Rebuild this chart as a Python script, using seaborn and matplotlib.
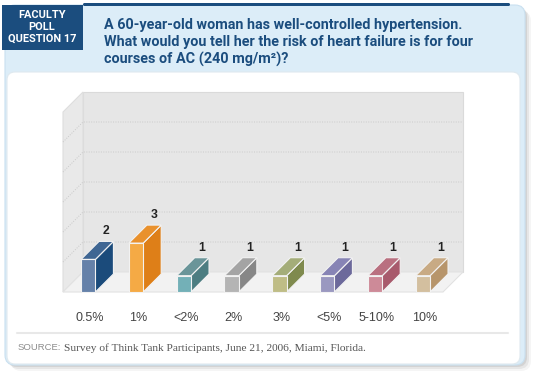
"""
Faculty poll bar chart: 3D-style vote counts per answer option.
"""

import matplotlib
matplotlib.use('Agg')
import matplotlib.pyplot as plt
from matplotlib.patches import Polygon, FancyBboxPatch, Rectangle
import seaborn as sns


# ── Data ───────────────────────────────────────────────────────────────────────

answers = ['0.5%', '1%', '<2%', '2%', '3%', '<5%', '5-10%', '10%']
votes = [2, 3, 1, 1, 1, 1, 1, 1]

front_colors = ['#6581a9', '#f5aa45', '#73b0b7', '#b4b4b4',
                '#bfbd86', '#9a98c0', '#cd8a98', '#d3bf9f']
side_colors = ['#1b4b7b', '#de7f18', '#4c7d81', '#878787',
               '#7f8a4e', '#6c699b', '#a85a6c', '#b7956b']
top_colors = ['#3f6693', '#e9912d', '#6a9599', '#a4a4a4',
              '#a4ad79', '#8784b5', '#b97080', '#c8aa84']

badge_lines = ['FACULTY', 'POLL', 'QUESTION 17']
title_lines = ['A 60-year-old woman has well-controlled hypertension.',
               'What would you tell her the risk of heart failure is for four',
               'courses of AC (240 mg/m²)?']
source_tag = 'SOURCE:'
source_text = 'Survey of Think Tank Participants, June 21, 2006, Miami, Florida.'


# ── Geometry (pixels) ──────────────────────────────────────────────────────────

W, H = 540, 380
CAT0_PX, CAT_STEP_PX = 88.25, 47.8      # pixel x of first category, spacing
BASE_PX, UNIT_PX = 292, 16.3            # pixel y of zero, pixels per vote
XLIM, YLIM = (-0.6, 7.9), (-2.2, 12.6)
FLOOR_DEPTH_PX, BAR_DEPTH_PX = 20, 18
NAVY = '#1b4d7e'


def chart_rect():
    left = CAT0_PX + CAT_STEP_PX * XLIM[0]
    right = CAT0_PX + CAT_STEP_PX * XLIM[1]
    bottom = BASE_PX - UNIT_PX * YLIM[0]
    top = BASE_PX - UNIT_PX * YLIM[1]
    return [left / W, 1 - bottom / H, (right - left) / W, (bottom - top) / H]


sns.set_style('white')
plt.rcParams['font.family'] = ['Liberation Sans', 'DejaVu Sans']

fig = plt.figure(figsize=(W / 100, H / 100), dpi=100)

# ── Frame ──────────────────────────────────────────────────────────────────────

bg = fig.add_axes([0, 0, 1, 1])
bg.set_xlim(0, W)
bg.set_ylim(H, 0)
bg.axis('off')

for off, alpha in [(6, 0.04), (4, 0.06), (2, 0.08)]:
    bg.add_patch(FancyBboxPatch((5 + off, 5 + off), 520, 360,
                                boxstyle='round,pad=0,rounding_size=10',
                                facecolor='#000000', edgecolor='none', alpha=alpha))
bg.add_patch(FancyBboxPatch((5, 5), 520, 360, boxstyle='round,pad=0,rounding_size=10',
                            facecolor='#dcedf8', edgecolor='#c9e0f0', linewidth=0.8))
bg.add_patch(FancyBboxPatch((7, 72), 513, 292, boxstyle='round,pad=0,rounding_size=8',
                            facecolor='white', edgecolor='#dfe9ef', linewidth=0.8))
bg.add_patch(FancyBboxPatch((83, 3), 427, 3, boxstyle='round,pad=0,rounding_size=1.5',
                            facecolor=NAVY, edgecolor='none'))
bg.add_patch(Rectangle((2, 5), 81, 45, facecolor=NAVY, edgecolor='none'))

for i, line in enumerate(badge_lines):
    bg.text(42, 15 + 12 * i, line, color='white', fontsize=7.9, fontweight='bold',
            ha='center', va='center', family=['Roboto', 'DejaVu Sans'])
for i, line in enumerate(title_lines):
    bg.text(104, 25 + 17 * i, line, color=NAVY, fontsize=10.4, fontweight='bold',
            ha='left', va='center', family=['Roboto', 'DejaVu Sans'])

bg.plot([17, 508], [333, 333], color='#e8e8e8', linewidth=1.5)
bg.text(18, 348, source_tag, color='#8c8c8c', fontsize=6.8, ha='left', va='center')
bg.text(64, 348, source_text, color='#555555', fontsize=8.2, ha='left', va='center',
        family=['Liberation Serif', 'DejaVu Serif'])

# ── 3D bar chart ───────────────────────────────────────────────────────────────

ax = fig.add_axes(chart_rect())
sns.barplot(x=answers, y=votes, hue=answers, palette=front_colors, legend=False,
            width=0.30, saturation=1, edgecolor='#f2f2f2', linewidth=0.8, ax=ax)
bars = list(ax.patches)
ax.set_xlim(XLIM)
ax.set_ylim(YLIM)
ax.axis('off')

fdx, fdy = FLOOR_DEPTH_PX / CAT_STEP_PX, FLOOR_DEPTH_PX / UNIT_PX
x_left = (63 - CAT0_PX) / CAT_STEP_PX
x_right = (443 - CAT0_PX) / CAT_STEP_PX
y_top = (BASE_PX - 92) / UNIT_PX

ax.add_patch(Polygon([(x_left + fdx, fdy), (x_right + fdx, fdy),
                      (x_right + fdx, y_top), (x_left + fdx, y_top)],
                     facecolor='#e6e6e6', edgecolor='#dadada', linewidth=0.8, zorder=0.5))
ax.add_patch(Polygon([(x_left, 0), (x_left + fdx, fdy), (x_left + fdx, y_top),
                      (x_left, y_top - fdy)],
                     facecolor='#e9e9e9', edgecolor='#dedede', linewidth=0.8, zorder=0.5))
ax.add_patch(Polygon([(x_left, 0), (x_right, 0), (x_right + fdx, fdy), (x_left + fdx, fdy)],
                     facecolor='#f2f2f2', edgecolor='#e2e2e2', linewidth=0.8, zorder=0.6))

grid_step = (y_top - fdy) / 6
for k in range(1, 6):
    g = fdy + k * grid_step
    ax.plot([x_left, x_left + fdx, x_right + fdx], [g - fdy, g, g],
            color='#c9c9c9', linewidth=0.7, linestyle=(0, (1, 1.5)), zorder=0.7)

bdx, bdy = BAR_DEPTH_PX / CAT_STEP_PX, BAR_DEPTH_PX / UNIT_PX
for p, v, sc, tc in zip(bars, votes, side_colors, top_colors):
    x0, w, h = p.get_x(), p.get_width(), p.get_height()
    p.set_zorder(3)
    ax.add_patch(Polygon([(x0 + w, 0), (x0 + w + bdx, bdy), (x0 + w + bdx, h + bdy), (x0 + w, h)],
                         facecolor=sc, edgecolor='#f2f2f2', linewidth=0.8, zorder=2))
    ax.add_patch(Polygon([(x0, h), (x0 + w, h), (x0 + w + bdx, h + bdy), (x0 + bdx, h + bdy)],
                         facecolor=tc, edgecolor='#f2f2f2', linewidth=0.8, zorder=2))
    ax.text(x0 + 25 / CAT_STEP_PX, h + bdy + 0.25, str(v), ha='center', va='bottom',
            fontsize=8.8, fontweight='bold', color='#222222')

for i, label in enumerate(answers):
    ax.text(i + 0.04, -1.6, label, ha='center', va='center', fontsize=9, color='#444444')

fig.savefig('out.png', dpi=100)
